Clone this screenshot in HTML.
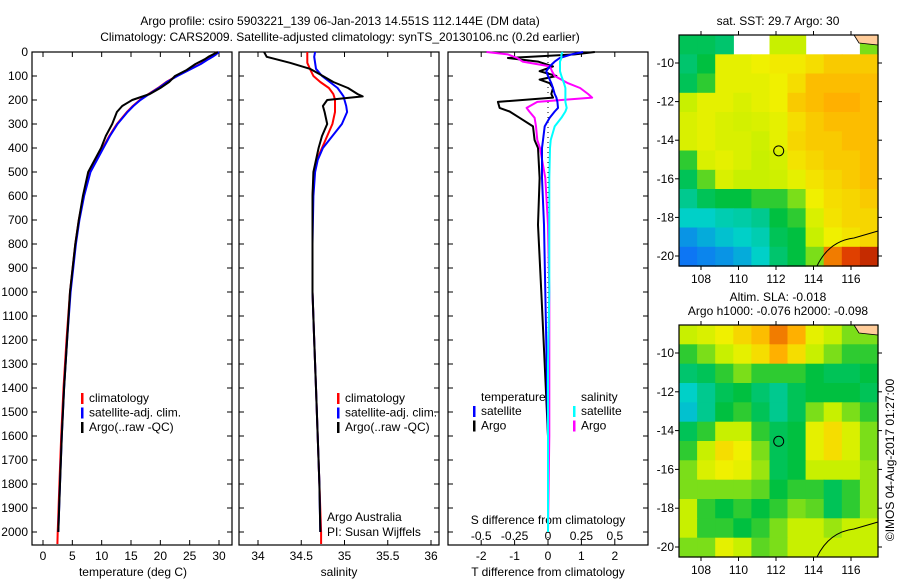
<!DOCTYPE html>
<html><head><meta charset="utf-8"><style>
html,body{margin:0;padding:0;background:#fff;}
svg{display:block;font-family:"Liberation Sans",sans-serif;}
</style></head><body>
<svg id="chart" width="900" height="580" viewBox="0 0 900 580"></svg>
<script>
// ---------- data ----------
const tDepths=[0,10,20,30,50,75,100,125,150,175,200,225,250,300,350,400,500,600,700,800,1000,1200,1400,1600,1800,2000];
const tempArgo=[29.8,29,28.2,27.6,26,24.5,22.5,21.5,20,18.2,15.2,13.5,12.6,11.8,10.7,9.9,7.7,6.8,6.1,5.5,4.6,4.1,3.6,3.2,2.9,2.6];
const tempClim=[29.6,29.2,28.7,28,26.8,24.8,22.8,21,19.6,18,16.5,15.3,14.3,12.6,11.3,10.2,8,6.9,6.1,5.5,4.6,4.0,3.5,3.1,2.8,2.5];
const tempSat=[30,29.5,28.9,28.2,26.9,24.9,22.9,21.1,19.7,18.1,16.6,15.4,14.4,12.7,11.4,10.3,8.1,7,6.2,5.6,4.7,4.1,3.6,3.2,2.9,2.6];
const sDepths=[0,20,45,70,100,125,150,175,185,200,225,250,300,350,400,450,500,600,800,1000,1200,1400,1600,1800,2000];
const salArgo=[34.07,34.1,34.37,34.6,34.75,34.87,35.04,35.15,35.21,34.8,34.75,34.77,34.8,34.74,34.7,34.67,34.64,34.63,34.63,34.63,34.65,34.67,34.69,34.71,34.72];
const salClim=[34.57,34.57,34.57,34.6,34.64,34.72,34.82,34.87,34.88,34.89,34.89,34.89,34.86,34.8,34.74,34.68,34.65,34.63,34.63,34.63,34.65,34.67,34.69,34.71,34.73];
const salSat=[34.66,34.65,34.66,34.67,34.74,34.83,34.92,34.97,34.99,35.0,35.02,35.03,34.97,34.86,34.75,34.69,34.66,34.64,34.63,34.63,34.65,34.67,34.69,34.71,34.72];
const dDepths=[0,10,25,40,60,80,100,115,130,150,175,190,208,233,248,274,310,367,400,525,720,1000,1300,1600,2000];
const dTArgo=[1.4,0.8,-1.2,-0.3,0.15,-0.25,0.25,-0.25,0.05,0.15,0.1,0.15,-1.5,-1.45,-1.15,-0.85,-0.45,-0.4,-0.3,-0.25,-0.3,-0.2,-0.1,0.0,0.0];
const dTSat=[1.05,0.7,0.35,0.2,0.05,-0.05,0,0.05,0.1,0.15,0.2,0.25,0.28,0.3,0.2,0.05,-0.1,-0.15,-0.18,-0.18,-0.12,-0.08,-0.04,0,0];
const dSSat=[0.11,0.1,0.1,0.09,0.09,0.09,0.1,0.11,0.12,0.13,0.13,0.13,0.13,0.14,0.13,0.1,0.05,0.02,0.015,0.01,0.01,0.01,0.0,0,0];
const dSArgo=[-0.46,-0.3,-0.23,-0.19,0.015,0.03,0.05,0.1,0.15,0.24,0.3,0.33,-0.08,-0.16,-0.14,-0.1,-0.09,-0.08,-0.06,-0.02,0,0.01,0.01,0.01,0.0];
const depthTicks=[0,100,200,300,400,500,600,700,800,900,1000,1100,1200,1300,1400,1500,1600,1700,1800,1900,2000];
const tempTicks=[0,5,10,15,20,25,30];
const salTicks=[34,34.5,35,35.5,36];
const tdTicks=[-2,-1,0,1,2];
const sdTicks=[-0.5,-0.25,0,0.25,0.5];
const sdTickLabels=["-0.5","-0.25","0","0.25","0.5"];
const latTicks=[-10,-12,-14,-16,-18,-20];
const lonTicks=[108,110,112,114,116];
const sstGrid=[
[0.4,0.4,0.38,null,null,0.55,0.55,null,null,null,0.5],
[0.38,0.42,0.6,0.6,0.62,0.63,0.63,0.65,0.68,0.68,0.68],
[0.4,0.45,0.6,0.6,0.6,0.62,0.65,0.7,0.7,0.7,0.7],
[0.55,0.6,0.6,0.58,0.6,0.62,0.68,0.7,0.72,0.72,0.7],
[0.58,0.6,0.58,0.57,0.58,0.6,0.65,0.68,0.7,0.7,0.7],
[0.58,0.6,0.58,0.58,0.56,0.6,0.66,0.68,0.68,0.7,0.7],
[0.45,0.58,0.6,0.58,0.55,0.57,0.64,0.66,0.68,0.68,0.7],
[0.4,0.48,0.58,0.55,0.55,0.56,0.6,0.64,0.66,0.68,0.7],
[0.35,0.4,0.42,0.42,0.45,0.45,0.5,0.62,0.65,0.66,0.68],
[0.3,0.3,0.32,0.33,0.35,0.42,0.45,0.58,0.64,0.66,0.66],
[0.22,0.25,0.28,0.3,0.32,0.4,0.42,0.55,0.62,0.64,0.66],
[0.18,0.2,0.22,0.25,0.3,0.38,0.42,0.5,0.78,0.85,0.9]];
const slaGrid=[
[0.55,0.58,0.62,0.66,0.7,0.78,0.72,0.6,0.55,0.5,0.5],
[0.45,0.5,0.55,0.6,0.65,0.72,0.65,0.55,0.5,0.45,0.45],
[0.38,0.4,0.45,0.5,0.45,0.45,0.45,0.42,0.4,0.4,0.42],
[0.3,0.35,0.4,0.42,0.38,0.35,0.4,0.42,0.42,0.42,0.4],
[0.28,0.35,0.42,0.45,0.4,0.35,0.4,0.5,0.55,0.5,0.45],
[0.4,0.45,0.55,0.55,0.45,0.4,0.42,0.6,0.65,0.58,0.5],
[0.45,0.55,0.65,0.62,0.5,0.4,0.42,0.6,0.65,0.58,0.5],
[0.5,0.58,0.62,0.6,0.52,0.4,0.42,0.55,0.55,0.55,0.52],
[0.5,0.5,0.5,0.5,0.48,0.42,0.45,0.45,0.4,0.45,0.52],
[0.55,0.45,0.42,0.45,0.42,0.45,0.5,0.48,0.4,0.45,0.52],
[0.55,0.45,0.45,0.42,0.45,0.5,0.55,0.55,0.52,0.55,0.55],
[0.5,0.5,0.6,0.55,0.48,0.5,0.55,0.55,0.55,0.55,0.55]];
const argoLon=112.144, argoLat=-14.551;

// ---------- helpers ----------
const NS="http://www.w3.org/2000/svg";
const svg=document.getElementById('chart');
function mk(tag,attrs,parent){const e=document.createElementNS(NS,tag);for(const k in attrs)e.setAttribute(k,attrs[k]);(parent||svg).appendChild(e);return e;}
function txt(x,y,s,anchor,size,parent){const t=mk('text',{x:x,y:y,'text-anchor':anchor||'middle','font-size':size||12,fill:'#000'},parent);t.textContent=s;return t;}
const yD=d=>52+d*0.24;
const xTemp=t=>43+t*5.867;
const xSal=s=>258+(s-34)*86.5;
const xTd=t=>548+t*33.4;
const xSd=s=>548+s*133.6;

// titles
let e;
e=txt(340,25,"Argo profile: csiro 5903221_139 06-Jan-2013 14.551S 112.144E (DM data)");

e=txt(340,41,"Climatology: CARS2009. Satellite-adjusted climatology: synTS_20130106.nc (0.2d earlier)");


function panel(name,x0,x1,withLabels){
  const g=mk('g',{});
  
  
  mk('rect',{x:x0,y:52,width:x1-x0,height:493,fill:'none',stroke:'#000','stroke-width':1.2},g);
  depthTicks.forEach(d=>{
    const y=yD(d);
    mk('line',{x1:x0,y1:y,x2:x0+5,y2:y,stroke:'#000'},g);
    mk('line',{x1:x1,y1:y,x2:x1-5,y2:y,stroke:'#000'},g);
    if(withLabels){const t=txt(28,y+4,String(d),'end',12,g);}
  });
  return g;
}
function xticks(g,ticks,fx,labels,ylab){
  ticks.forEach((v,i)=>{const x=fx(v);
    mk('line',{x1:x,y1:545,x2:x,y2:540,stroke:'#000'},g);
    mk('line',{x1:x,y1:52,x2:x,y2:57,stroke:'#000'},g);
    const t=txt(x,ylab,labels?labels[i]:String(v),'middle',12,g);
    });
}
function line(g,depths,vals,fx,color,name,w){
  const pts=depths.map((d,i)=>fx(vals[i]).toFixed(1)+','+yD(d).toFixed(1)).join(' ');
  const p=mk('polyline',{points:pts,fill:'none',stroke:color,'stroke-width':w||2,'stroke-linejoin':'round'},g);
  
}
function legend(g,x,y,items){
  items.forEach((it,i)=>{
    mk('rect',{x:x,y:y+i*14.5-9,width:2.5,height:11,fill:it[1]},g);
    const t=txt(x+8,y+i*14.5,it[0],'start',12,g);
    
  });
}

// panel 1 temperature
const g1=panel('temperature-panel',32,232,true);
xticks(g1,tempTicks,xTemp,null,560);
e=txt(133,576,"temperature (deg C)",'middle',12,g1);
line(g1,tDepths.concat([2050]),tempClim.concat([2.45]),xTemp,'#f00','temp-climatology-line');
line(g1,tDepths,tempSat,xTemp,'#00f','temp-satellite-line');
line(g1,tDepths,tempArgo,xTemp,'#000','temp-argo-line');
legend(g1,81,402,[["climatology","#f00"],["satellite-adj. clim.","#00f"],["Argo(..raw -QC)","#000"]]);

// panel 2 salinity
const g2=panel('salinity-panel',239,439,false);
xticks(g2,salTicks,xSal,null,560);
e=txt(339,576,"salinity",'middle',12,g2);
line(g2,sDepths.concat([2050]),salClim.concat([34.73]),xSal,'#f00','sal-climatology-line');
line(g2,sDepths,salSat,xSal,'#00f','sal-satellite-line');
line(g2,sDepths,salArgo,xSal,'#000','sal-argo-line');
legend(g2,337,402,[["climatology","#f00"],["satellite-adj. clim.","#00f"],["Argo(..raw -QC)","#000"]]);
e=txt(327,521,"Argo Australia",'start',12,g2);
e=txt(327,536,"PI: Susan Wijffels",'start',12,g2);

// panel 3 differences
const g3=panel('difference-panel',448,648,false);
xticks(g3,tdTicks,xTd,null,560);
sdTicks.forEach((v,i)=>{const t=txt(xSd(v),540,sdTickLabels[i],'middle',12,g3);});
e=txt(548,524,"S difference from climatology",'middle',12,g3);
e=txt(548,576,"T difference from climatology",'middle',12,g3);
mk('line',{x1:548,y1:52,x2:548,y2:545,stroke:'#000','stroke-dasharray':'1,4'},g3);
line(g3,dDepths,dTArgo,xTd,'#000','tdiff-argo-line');
line(g3,dDepths,dSArgo,xSd,'#f0f','sdiff-argo-line');
line(g3,dDepths,dTSat,xTd,'#00f','tdiff-satellite-line');
line(g3,dDepths,dSSat,xSd,'#0ff','sdiff-satellite-line');
e=txt(481,401,"temperature",'start',12,g3);
e=txt(581,401,"salinity",'start',12,g3);
legend(g3,473,415,[["satellite","#00f"],["Argo","#000"]]);
legend(g3,573,415,[["satellite","#0ff"],["Argo","#f0f"]]);

// colormap
const stops=[[0,[0,0,190]],[0.15,[16,96,255]],[0.3,[0,208,200]],[0.42,[0,192,64]],[0.55,[200,240,0]],[0.62,[240,240,0]],[0.72,[255,176,0]],[0.85,[224,64,0]],[1,[144,0,0]]];
function cmap(v){for(let i=1;i<stops.length;i++){if(v<=stops[i][0]){const a=stops[i-1],b=stops[i];const f=(v-a[0])/(b[0]-a[0]);return 'rgb('+a[1].map((c,k)=>Math.round(c+(b[1][k]-c)*f)).join(',')+')';}}return 'rgb(144,0,0)';}

function map(name,top,bot,lat10y,lat20y,grid,titles){
  const g=mk('g',{});
  
  
  const x0=679,x1=878;
  const xL=lon=>701+(lon-108)*18.75;
  const yL=lat=>lat10y+(-10-lat)*(lat20y-lat10y)/10;
  const rows=grid.length,cols=grid[0].length,cw=(x1-x0)/cols,ch=(bot-top)/rows;
  grid.forEach((row,r)=>row.forEach((v,c)=>{
    if(v===null)return;
    const cell=mk('rect',{x:(x0+c*cw).toFixed(1),y:(top+r*ch).toFixed(1),width:(cw+0.6).toFixed(1),height:(ch+0.6).toFixed(1),fill:cmap(v)},g);
    
    
  }));
  // land / coast
  mk('path',{d:`M${x0+175},${top} L${x1},${top} L${x1},${top+10} L${x0+180},${top+8} Z`,fill:'#ffcc99',stroke:'#000','stroke-width':0.8},g);
  mk('path',{d:`M${x0+138},${bot} Q${x0+150},${bot-25} ${x0+175},${bot-28} L${x1},${bot-35}`,fill:'none',stroke:'#000','stroke-width':1},g);
  mk('rect',{x:x0,y:top,width:x1-x0,height:bot-top,fill:'none',stroke:'#000','stroke-width':1.2},g);
  latTicks.forEach(l=>{const y=yL(l);mk('line',{x1:x0,y1:y,x2:x0-4,y2:y,stroke:'#000'},g);mk('line',{x1:x1,y1:y,x2:x1+4,y2:y,stroke:'#000'},g);
    const t=txt(674,y+4,String(l),'end',12,g);});
  lonTicks.forEach(l=>{const x=xL(l);mk('line',{x1:x,y1:top,x2:x,y2:top-4,stroke:'#000'},g);mk('line',{x1:x,y1:bot,x2:x,y2:bot+4,stroke:'#000'},g);
    const t=txt(x,bot+17,String(l),'middle',12,g);});
  const c=mk('circle',{cx:xL(argoLon),cy:yL(argoLat),r:5,fill:'none',stroke:'#000','stroke-width':1},g);
  
  titles.forEach(t=>{const tt=txt(t[0],t[1],t[2],'middle',12,g);});
}
map('sst-map',35,266,63,256,sstGrid,[[778,25,"sat. SST: 29.7  Argo: 30"]]);
map('sla-map',325,557,353,547,slaGrid,[[778,301,"Altim. SLA: -0.018"],[778,315,"Argo h1000: -0.076  h2000: -0.098"]]);

e=mk('text',{x:0,y:0,'font-size':12,'text-anchor':'middle',transform:'translate(894,460) rotate(-90)'});
e.textContent="©IMOS 04-Aug-2017 01:27:00";


</script>
</body></html>
